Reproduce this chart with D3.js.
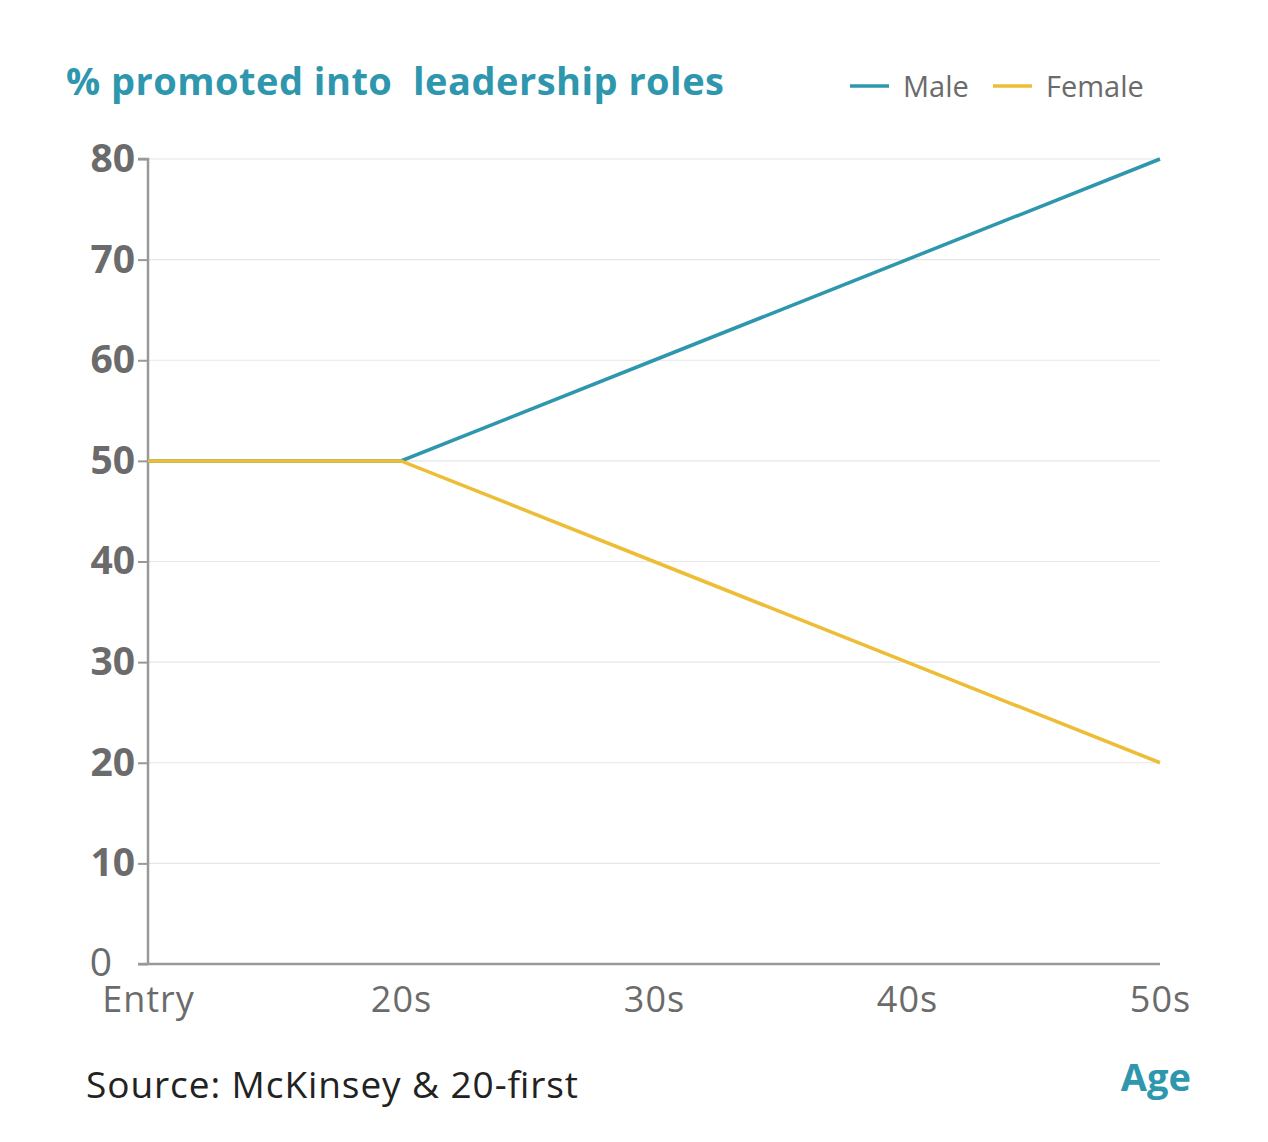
<!DOCTYPE html>
<html>
<head>
<meta charset="utf-8">
<script src="https://cdn.jsdelivr.net/npm/d3@7"></script>
<style>
  body { margin: 0; background: #fff; }
  text { font-family: "Open Sans", sans-serif; }
</style>
</head>
<body>
<div id="chart"></div>
<script>
// data
var ageGroups = ["Entry", "20s", "30s", "40s", "50s"];
var maleValues = [50, 50, 60, 70, 80];
var femaleValues = [50, 50, 40, 30, 20];
var yTicks = [0, 10, 20, 30, 40, 50, 60, 70, 80];

var svgWidth = 1268, svgHeight = 1142;
var margin = { top: 159, left: 148, right: 108, bottom: 178 };
var width = svgWidth - margin.left - margin.right;
var height = svgHeight - margin.top - margin.bottom;

var teal = "#2e97ae", gold = "#eebd36", grey = "#6b6b6b";

var svg = d3.select("#chart").append("svg")
    .attr("width", svgWidth)
    .attr("height", svgHeight);

var g = svg.append("g")
    .attr("transform", `translate(${margin.left},${margin.top})`);

var x = d3.scalePoint().domain(ageGroups).range([0, width]);
var y = d3.scaleLinear().domain([0, 80]).range([height, 0]);

// gridlines
g.selectAll(".grid").data(yTicks.filter(d => d > 0)).enter()
  .append("line")
    .attr("x1", 0).attr("x2", width)
    .attr("y1", d => y(d)).attr("y2", d => y(d))
    .attr("stroke", "#e6e6e6").attr("stroke-width", 1.2);

// y axis
var yAxis = g.append("g")
    .call(d3.axisLeft(y).tickValues(yTicks).tickSize(10).tickPadding(3));
yAxis.select(".domain").attr("stroke", "#999").attr("stroke-width", 2.5).attr("d", `M-10,0H0V${height}`);
yAxis.selectAll(".tick line").attr("stroke", "#999").attr("stroke-width", 2);
yAxis.selectAll(".tick text")
    .attr("fill", grey).attr("font-size", 39).attr("font-weight", "bold")
    .attr("font-family", "Open Sans, sans-serif");
// the zero label sits further left, in regular weight
yAxis.selectAll(".tick").filter(d => d === 0).select("text")
    .attr("font-weight", "normal").attr("x", -36).attr("dy", "0.3em");

// x axis
var xAxis = g.append("g")
    .attr("transform", `translate(0,${height})`)
    .call(d3.axisBottom(x).tickSize(0).tickPadding(22));
xAxis.select(".domain").attr("stroke", "#999").attr("stroke-width", 2.5).attr("d", `M-10,0H${width}`);
xAxis.selectAll(".tick text")
    .attr("fill", grey).attr("font-size", 36).attr("letter-spacing", 1)
    .attr("font-family", "Open Sans, sans-serif");

// lines
var line = d3.line()
    .x((d, i) => x(ageGroups[i]))
    .y(d => y(d));

g.append("path").datum(maleValues)
    .attr("d", line).attr("fill", "none")
    .attr("stroke", teal).attr("stroke-width", 3.5);
g.append("path").datum(femaleValues)
    .attr("d", line).attr("fill", "none")
    .attr("stroke", gold).attr("stroke-width", 3.5);

// title
svg.append("text")
    .attr("x", 66).attr("y", 95)
    .attr("fill", teal).attr("font-size", 38).attr("font-weight", "bold")
    .attr("xml:space", "preserve")
    .attr("textLength", 658).attr("lengthAdjust", "spacing")
    .text("% promoted into  leadership roles");

// legend
var legendItems = [
  { label: "Male", color: teal, x: 850 },
  { label: "Female", color: gold, x: 993 }
];
var legend = svg.selectAll(".legend").data(legendItems).enter()
  .append("g").attr("transform", d => `translate(${d.x},86)`);
legend.append("line")
    .attr("x1", 0).attr("x2", 39).attr("y1", 0).attr("y2", 0)
    .attr("stroke", d => d.color).attr("stroke-width", 3.5);
legend.append("text")
    .attr("x", 53).attr("y", 11)
    .attr("fill", grey).attr("font-size", 29)
    .text(d => d.label);

// source and axis title
svg.append("text")
    .attr("x", 86).attr("y", 1098)
    .attr("fill", "#222").attr("font-size", 37)
    .attr("textLength", 492).attr("lengthAdjust", "spacing")
    .text("Source: McKinsey & 20-first");

svg.append("text")
    .attr("x", 1191).attr("y", 1091)
    .attr("text-anchor", "end")
    .attr("fill", teal).attr("font-size", 38).attr("font-weight", "bold")
    .text("Age");
</script>
</body>
</html>
